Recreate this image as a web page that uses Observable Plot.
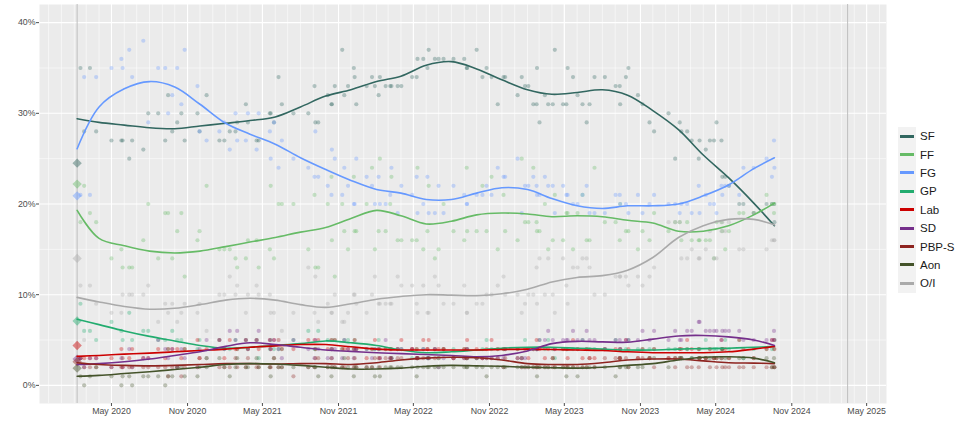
<!DOCTYPE html>
<html>
<head>
<meta charset="utf-8">
<script src="https://cdn.jsdelivr.net/npm/d3@7"></script>
<script src="https://cdn.jsdelivr.net/npm/@observablehq/plot@0.6"></script>
<style>
  body { margin: 0; background: #fff; font-family: "Liberation Sans", Arial, sans-serif; }
  #wrap { position: relative; width: 964px; height: 429px; }
  #chart { position: absolute; left: 0; top: 0; }
  #legend { position: absolute; left: 898px; top: 127px; }
  .row { display: flex; align-items: center; height: 18.4px; }
  .key { width: 18px; height: 18.4px; background: #F2F2F2; position: relative; }
  .key span { position: absolute; left: 2px; right: 2px; top: 7.7px; height: 3px; }
  .lab { margin-left: 4px; font-size: 11.5px; color: #1A1A1A; }
</style>
</head>
<body>
<div id="wrap"><div id="chart"></div><div id="legend"></div></div>
<script>
// ---------- data ----------
const parties = ["SF", "FF", "FG", "GP", "Lab", "SD", "PBP-S", "Aon", "O/I"];
const partyColors = ["#326760", "#66BB66", "#6699FF", "#22AC6F", "#CC0000", "#752F8B", "#8E2420", "#44532A", "#AAAAAA"];

const electionDate = "2020-02-08";
const electionResults = [24.5, 22.2, 20.9, 7.1, 4.4, 2.9, 2.6, 1.9, 14.0];
const markerDates = ["2020-02-08", "2025-03-16"];

const xTickDates = ["2020-05-01", "2020-11-01", "2021-05-01", "2021-11-01", "2022-05-01", "2022-11-01",
  "2023-05-01", "2023-11-01", "2024-05-01", "2024-11-01", "2025-05-01"];
const yTicks = [0, 10, 20, 30, 40];
const yMinor = [5, 15, 25, 35];

const pollDates = [
  "2020-02-16","2020-02-25","2020-03-10","2020-03-25","2020-05-01","2020-05-25","2020-05-28","2020-06-13","2020-06-20","2020-07-17",
  "2020-07-29","2020-08-22","2020-09-08","2020-09-15","2020-09-25","2020-10-07","2020-10-17","2020-10-25","2020-11-25","2020-11-30",
  "2020-12-17","2021-01-17","2021-01-29","2021-02-11","2021-02-25","2021-03-01","2021-03-22","2021-03-27","2021-04-17","2021-04-22",
  "2021-05-19","2021-05-21","2021-05-29","2021-06-09","2021-06-17","2021-07-15","2021-08-20","2021-09-04","2021-09-06","2021-09-13",
  "2021-10-06","2021-10-15","2021-10-16","2021-10-23","2021-11-10","2021-11-15","2021-11-24","2021-12-08","2021-12-10","2021-12-14",
  "2022-01-08","2022-01-21","2022-01-28","2022-02-06","2022-02-09","2022-02-23","2022-03-06","2022-03-09","2022-03-24","2022-04-02",
  "2022-04-28","2022-05-09","2022-05-11","2022-05-25","2022-06-04","2022-06-07","2022-06-22","2022-07-01","2022-07-13","2022-08-06",
  "2022-09-01","2022-09-07","2022-09-08","2022-10-01","2022-10-15","2022-10-25","2022-11-06","2022-11-21","2022-12-05","2022-12-09",
  "2023-01-08","2023-01-18","2023-01-26","2023-02-03","2023-02-15","2023-02-23","2023-02-24","2023-03-02","2023-03-15","2023-03-23",
  "2023-04-03","2023-04-08","2023-04-28","2023-05-06","2023-05-09","2023-05-22","2023-06-02","2023-06-14","2023-06-24","2023-07-01",
  "2023-07-13","2023-08-07","2023-09-02","2023-09-12","2023-09-13","2023-09-27","2023-10-03","2023-10-26","2023-11-06","2023-11-23",
  "2023-12-04","2024-01-08","2024-01-24","2024-02-04","2024-02-08","2024-02-22","2024-03-04","2024-03-21","2024-03-23","2024-04-07",
  "2024-04-17","2024-04-27","2024-05-03","2024-05-15","2024-05-17","2024-05-24","2024-06-02","2024-06-27","2024-07-07","2024-08-01",
  "2024-09-01","2024-09-14","2024-09-19","2024-09-20"
];
const sfPolls = [35,28,35,28,27,27,27,25,27,26, 30,30,27,32,28,29,30,27,30,28, 32,27,27,28,28,29,31,29,27,27,
  30,30,29,34,31,30,30,33,29,29, 32,31,31,33,37,32,33,35,34,31, 33,34,33,32,34,33,33,33,33,33,
  34,34,36,36,35,37,36,36,36,36, 36,35,35,37,34,35,34,31,34,34, 32,34,33,33,31,31,35,29,32,31,
  31,37,31,31,35,34,32,31,29,31, 34,34,33,33,31,34,35,32,31,29, 28,30,25,29,28,28,27,25,27,26,
  27,27,29,27,23,23,22,20,20,19, 20,20,20,18];
const ffPolls = [18,22,19,18,14,15,13,13,13,16, 20,14,19,19,14,17,19,12,16,17, 22,15,15,15,14,13,14,16,16,13,
  15,22,14,20,20,20,15,21,13,13, 20,23,16,12,20,17,15,23,17,17, 20,24,15,17,25,17,20,23,16,16,
  16,16,24,15,17,22,14,15,20,17, 16,24,17,17,22,17,23,15,21,17, 16,25,18,18,24,18,17,17,20,15,
  16,21,16,19,19,15,19,21,16,16, 24,18,18,16,20,17,17,15,17,16, 19,17,18,18,16,18,16,16,16,16,
  16,14,18,18,17,15,17,19,19,19, 21,20,19,20];
const fgPolls = [21,34,21,34,35,36,35,37,34,38, 29,35,35,30,32,35,31,37,33,28, 27,28,29,26,30,27,27,30,26,30,
  28,25,29,24,27,25,24,23,28,23, 22,21,26,25,21,24,22,20,20,25, 23,22,20,23,20,20,21,24,19,22,
  21,23,19,20,23,19,19,22,19,22, 21,20,20,21,21,22,21,24,23,23, 25,19,22,22,23,22,21,21,23,22,
  22,19,22,21,21,20,20,21,22,19, 19,19,21,21,20,20,19,21,19,20, 21,20,20,19,20,20,19,22,19,21,
  20,20,19,22,21,22,22,21,24,24, 25,23,27,24];
const gpPolls = [9,6,6,5,7,6,5,8,5,6, 6,5,5,4,6,5,5,4,4,5, 3,5,4,4,5,4,5,4,5,3,
  4,5,4,4,4,5,6,4,4,6, 5,4,5,5,4,5,5,4,5,4, 4,4,4,5,4,4,4,3,4,4,
  3,4,3,4,3,3,4,3,4,4, 4,3,4,3,4,5,4,4,4,4, 4,3,5,4,4,4,4,5,4,5,
  4,3,4,4,4,4,4,5,4,4, 4,4,5,3,4,4,5,4,4,4, 4,4,4,4,3,4,3,4,4,5,
  4,4,4,4,4,5,4,5,3,4, 4,4,4,5];
const labPolls = [3,3,3,3,3,4,2,3,4,3, 3,4,3,4,4,4,3,4,5,3, 4,5,3,5,4,4,5,4,5,4,
  5,4,5,5,4,4,5,5,4,5, 4,5,4,5,4,4,4,4,5,4, 3,4,5,4,3,4,4,4,4,5,
  4,4,3,5,4,5,4,4,4,3, 4,4,5,4,3,4,5,4,4,4, 4,3,4,3,4,5,4,4,3,4,
  3,4,4,4,3,5,4,3,4,3, 3,4,4,3,4,5,4,3,4,3, 4,3,3,4,4,5,4,4,3,3,
  4,3,3,5,4,4,3,5,4,3, 4,5,5,4];
const sdPolls = [3,2,3,3,2,3,2,4,2,3, 3,5,4,3,4,2,4,3,2,4, 5,5,4,6,5,6,5,4,5,6,
  5,4,5,4,3,5,4,3,5,4, 3,4,3,4,3,5,4,3,4,4, 4,3,4,4,3,5,3,3,4,4,
  4,3,3,4,3,3,4,2,3,3, 3,3,4,3,3,3,3,3,3,4, 3,3,3,4,4,4,4,5,5,6,
  5,4,5,5,5,6,5,5,6,5, 5,4,5,5,4,5,5,5,6,5, 6,5,6,5,5,6,6,7,7,6,
  6,6,6,5,6,6,6,6,5,5, 5,5,6,5];
const pbpPolls = [3,2,2,2,2,2,3,2,2,2, 2,2,2,1,2,2,1,2,2,3, 3,2,2,2,3,2,2,3,2,2,
  2,2,3,2,2,1,2,2,3,3, 2,3,2,2,2,2,3,2,3,2, 2,2,3,3,2,3,3,3,3,3,
  4,3,3,3,4,3,3,3,4,3, 3,3,3,3,3,3,3,3,2,3, 3,2,2,2,2,2,2,2,2,2,
  2,2,2,2,2,2,2,2,2,3, 2,3,3,3,3,3,2,3,3,3, 2,3,2,3,3,2,2,2,3,3,
  2,3,2,3,2,2,2,2,2,2, 2,2,2,2];
const aonPolls = [1,0,1,2,1,0,1,1,0,1, 1,1,0,1,1,2,2,1,1,2, 2,3,2,1,2,3,2,2,3,2,
  2,1,3,2,2,2,2,2,2,1, 2,1,2,2,2,3,2,1,2,2, 2,2,1,2,1,2,2,2,2,2,
  2,1,2,2,2,2,2,2,2,2, 2,2,2,2,2,1,2,2,2,2, 2,2,2,2,2,2,1,2,2,2,
  3,2,2,1,2,2,1,2,2,2, 2,2,1,2,2,2,2,2,2,3, 3,2,3,3,3,4,3,3,3,3,
  3,3,3,3,4,3,3,3,3,3, 3,2,3,2];
const oiPolls = [11,5,11,9,8,8,10,10,10,10, 11,7,9,8,9,7,8,9,8,9, 6,10,10,12,10,11,8,10,11,10,
  10,8,8,5,6,8,13,8,12,7, 9,8,8,10,7,7,8,10,10,9, 8,10,12,9,9,9,9,9,12,11,
  11,9,8,11,8,8,12,11,9,9, 11,8,8,9,9,10,10,11,12,10, 10,8,9,10,10,13,9,14,10,14,
  10,8,14,11,9,13,13,14,14,13, 10,10,12,12,12,12,11,12,11,12, 13,18,18,18,14,14,15,14,14,15,
  17,14,14,17,18,17,18,15,15,19, 15,16,16,16];

const trendDates = ["2020-02-08","2020-04-01","2020-06-01","2020-08-01","2020-10-01","2020-12-01","2021-02-01","2021-04-01",
  "2021-06-01","2021-08-01","2021-10-01","2021-12-01","2022-02-01","2022-04-01","2022-06-01","2022-08-01","2022-10-01",
  "2022-12-01","2023-02-01","2023-04-01","2023-06-01","2023-08-01","2023-10-01","2023-12-01","2024-02-01","2024-04-01",
  "2024-06-01","2024-08-01","2024-09-20"];
const sfTrend = [29.4,29.0,28.7,28.4,28.3,28.6,28.9,29.2,29.6,30.7,31.9,32.6,33.5,34.1,35.3,35.7,34.9,33.7,32.6,32.1,32.3,32.6,32.0,30.3,28.2,25.4,22.9,20.1,17.6];
const ffTrend = [19.3,16.2,15.4,14.8,14.6,14.8,15.3,15.8,16.3,16.9,17.4,18.4,19.3,18.7,17.8,18.1,18.8,19.0,18.9,18.6,18.7,18.6,18.2,17.9,17.0,17.0,17.6,18.8,20.1];
const fgTrend = [26.1,30.7,32.7,33.5,32.9,31.0,28.9,27.7,26.6,25.1,23.8,22.6,21.6,21.2,20.5,20.5,21.2,21.8,21.6,20.6,19.8,19.5,19.8,19.8,20.0,20.9,22.1,23.9,25.1];
const gpTrend = [7.3,6.7,6.0,5.4,4.9,4.4,4.1,4.2,4.4,4.6,4.9,4.7,4.4,3.9,3.6,3.7,3.9,4.1,4.2,4.2,4.1,4.0,3.9,3.9,4.0,4.05,4.1,4.2,4.3];
const labTrend = [3.2,3.3,3.45,3.55,3.7,3.85,4.0,4.2,4.35,4.5,4.5,4.25,4.0,3.9,3.9,3.9,3.9,3.95,4.0,3.95,3.9,3.85,3.7,3.6,3.6,3.6,3.7,4.0,4.3];
const sdTrend = [2.3,2.4,2.6,2.9,3.3,3.7,4.3,4.7,4.5,4.2,3.9,3.75,3.6,3.5,3.4,3.3,3.15,3.3,3.8,4.6,4.85,4.8,4.75,5.1,5.45,5.5,5.35,5.0,4.4];
const pbpTrend = [2.5,2.3,2.2,2.15,2.2,2.3,2.4,2.4,2.35,2.4,2.4,2.3,2.5,2.8,3.0,3.1,3.05,2.8,2.4,2.3,2.3,2.5,2.8,2.9,2.9,2.7,2.5,2.45,2.4];
const aonTrend = [1.0,1.1,1.3,1.5,1.75,2.0,2.3,2.4,2.35,2.2,2.0,1.8,1.8,1.9,2.1,2.2,2.15,2.1,2.0,1.95,1.9,2.0,2.2,2.4,2.8,3.1,3.15,3.0,2.5];
const oiTrend = [9.7,9.2,8.7,8.4,8.5,8.9,9.4,9.6,9.4,8.9,8.6,9.0,9.5,9.8,10.0,9.95,9.9,10.1,10.6,11.4,11.9,12.1,12.7,14.1,16.3,17.6,18.3,18.3,17.7];

// ---------- build tables ----------
const pollSeries = [sfPolls, ffPolls, fgPolls, gpPolls, labPolls, sdPolls, pbpPolls, aonPolls, oiPolls];
const trendSeries = [sfTrend, ffTrend, fgTrend, gpTrend, labTrend, sdTrend, pbpTrend, aonTrend, oiTrend];
const parse = d3.utcParse("%Y-%m-%d");

const polls = parties.flatMap((p, i) => pollDates.map((d, j) => ({party: p, date: parse(d), value: pollSeries[i][j]})));
const trends = parties.flatMap((p, i) => trendDates.map((d, j) => ({party: p, date: parse(d), value: trendSeries[i][j]})));
const election = parties.map((p, i) => ({party: p, date: parse(electionDate), value: electionResults[i]}));

const xStart = parse("2019-11-09"), xEnd = parse("2025-06-18");
const monthLines = d3.utcMonth.range(xStart, xEnd);

const chart = Plot.plot({
  width: 890,
  height: 429,
  marginLeft: 39,
  marginRight: 4,
  marginTop: 4,
  marginBottom: 26,
  style: {fontFamily: "Liberation Sans, Arial, sans-serif", fontSize: "8.8px", color: "#4D4D4D", background: "transparent"},
  x: {type: "utc", domain: [xStart, xEnd]},
  y: {domain: [-2, 42]},
  color: {domain: parties, range: partyColors},
  marks: [
    Plot.frame({fill: "#EBEBEB", stroke: "none"}),
    Plot.ruleY(yMinor, {stroke: "#FFFFFF", strokeWidth: 0.55}),
    Plot.ruleX(monthLines, {stroke: "#FFFFFF", strokeWidth: 0.55}),
    Plot.ruleY(yTicks, {stroke: "#FFFFFF", strokeWidth: 1.1}),
    Plot.ruleX(xTickDates.map(parse), {stroke: "#FFFFFF", strokeWidth: 1.1}),
    Plot.ruleX(markerDates.map(parse), {stroke: "#BEBEBE", strokeWidth: 1}),
    Plot.dot(polls, {x: "date", y: "value", fill: "party", r: 2.1, fillOpacity: 0.33, stroke: "none"}),
    Plot.dot(election, {x: "date", y: "value", fill: "party", symbol: "diamond2", r: 4.2, fillOpacity: 0.45, stroke: "none"}),
    Plot.line(trends, {x: "date", y: "value", z: "party", stroke: "party", strokeWidth: 1.6, curve: "catmull-rom"}),
    Plot.axisY({ticks: yTicks, tickFormat: d => d + "%", tickSize: 3, tickPadding: 1, label: null, color: "#4D4D4D"}),
    Plot.axisX({ticks: xTickDates.map(parse), tickFormat: d3.utcFormat("%b %Y"), tickSize: 3, tickPadding: 1, label: null, color: "#4D4D4D"})
  ]
});
document.getElementById("chart").appendChild(chart);

// ---------- legend ----------
const legend = document.getElementById("legend");
parties.forEach((p, i) => {
  const row = document.createElement("div");
  row.className = "row";
  row.innerHTML = `<div class="key"><span style="background:${partyColors[i]}"></span></div><div class="lab">${p}</div>`;
  legend.appendChild(row);
});
</script>
</body>
</html>
